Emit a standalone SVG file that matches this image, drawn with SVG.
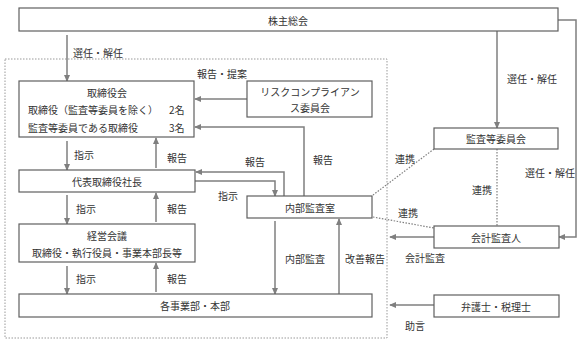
<svg xmlns="http://www.w3.org/2000/svg" width="584" height="344" viewBox="0 0 584 344">
<style>
.box{fill:#fff;stroke:#5f5f5f;stroke-width:1.2}
.t{font-family:"Noto Sans CJK JP","Liberation Sans",sans-serif;font-size:10px;fill:#333;dominant-baseline:central}
.c{text-anchor:middle}
.ln{fill:none;stroke:#7f7f7f;stroke-width:1.5}
.dot{fill:none;stroke:#7f7f7f;stroke-width:1.2;stroke-dasharray:1.5 1.5}
</style>
<defs>
<marker id="ah" viewBox="0 0 8 8" refX="7" refY="4" markerWidth="7" markerHeight="7" markerUnits="userSpaceOnUse" orient="auto">
<path d="M0,0.5 L8,4 L0,7.5 Z" fill="#7f7f7f"/>
</marker>
</defs>
<rect width="584" height="344" fill="#fff"/>
<rect x="5" y="59" width="382" height="279" fill="none" stroke="#999" stroke-width="1" stroke-dasharray="1.5 1.5"/>
<g id="connectors">
<path class="ln" d="M67,35 V81" marker-end="url(#ah)"/>
<path class="ln" d="M497,31 V128" marker-end="url(#ah)"/>
<path class="ln" d="M558,20 H576 V237 H559" marker-end="url(#ah)"/>
<path class="ln" d="M247,99 H195" marker-end="url(#ah)"/>
<path class="ln" d="M304,196 V127 H195" marker-end="url(#ah)"/>
<path class="ln" d="M284,196 V172 H196" marker-end="url(#ah)"/>
<path class="ln" d="M195,181 H275 V196" marker-end="url(#ah)"/>
<path class="ln" d="M67,141 V170" marker-end="url(#ah)"/>
<path class="ln" d="M156,168 V138" marker-end="url(#ah)"/>
<path class="ln" d="M67,195 V224" marker-end="url(#ah)"/>
<path class="ln" d="M156,222 V193" marker-end="url(#ah)"/>
<path class="ln" d="M67,266 V294" marker-end="url(#ah)"/>
<path class="ln" d="M156,292 V263" marker-end="url(#ah)"/>
<path class="ln" d="M275,221 V294" marker-end="url(#ah)"/>
<path class="ln" d="M339,294 V219" marker-end="url(#ah)"/>
<path class="ln" d="M434,237 H390" marker-end="url(#ah)"/>
<path class="ln" d="M434,305 H390" marker-end="url(#ah)"/>
<path class="dot" d="M434,149 L373,195"/>
<path class="dot" d="M497,149 V226"/>
<path class="dot" d="M373,217 L434,228"/>
</g>
<g id="labels">
<text class="t" x="73" y="52">選任・解任</text>
<text class="t" x="197" y="73">報告・提案</text>
<text class="t" x="74" y="154">指示</text>
<text class="t" x="167" y="157">報告</text>
<text class="t" x="245" y="161">報告</text>
<text class="t" x="313" y="159">報告</text>
<text class="t" x="218" y="195">指示</text>
<text class="t" x="76" y="208">指示</text>
<text class="t" x="167" y="208">報告</text>
<text class="t" x="76" y="278">指示</text>
<text class="t" x="167" y="278">報告</text>
<text class="t" x="285" y="258">内部監査</text>
<text class="t" x="345" y="258">改善報告</text>
<text class="t" x="507" y="78">選任・解任</text>
<text class="t" x="525" y="172">選任・解任</text>
<text class="t" x="395" y="158">連携</text>
<text class="t" x="472" y="189">連携</text>
<text class="t" x="398" y="212">連携</text>
<text class="t" x="405" y="257">会計監査</text>
<text class="t" x="405" y="325">助言</text>
</g>
<g id="shareholders">
<rect class="box" x="19" y="8" width="539" height="23"/>
<text class="t c" x="288" y="20">株主総会</text>
</g>
<g id="board">
<rect class="box" x="19" y="81" width="175" height="56"/>
<text class="t c" x="107" y="92">取締役会</text>
<text class="t" x="28" y="109">取締役（監査等委員を除く）</text>
<text class="t" x="169" y="109">2名</text>
<text class="t" x="28" y="127">監査等委員である取締役</text>
<text class="t" x="169" y="127">3名</text>
</g>
<g id="risk">
<rect class="box" x="247" y="81" width="125" height="36"/>
<text class="t c" x="310" y="91">リスクコンプライアン</text>
<text class="t c" x="310" y="107">ス委員会</text>
</g>
<g id="president">
<rect class="box" x="19" y="170" width="176" height="22"/>
<text class="t c" x="107" y="181">代表取締役社長</text>
</g>
<g id="internal-audit">
<rect class="box" x="247" y="196" width="125" height="22"/>
<text class="t c" x="310" y="207">内部監査室</text>
</g>
<g id="mgmt">
<rect class="box" x="19" y="224" width="176" height="38"/>
<text class="t c" x="107" y="235">経営会議</text>
<text class="t c" x="107" y="252">取締役・執行役員・事業本部長等</text>
</g>
<g id="divisions">
<rect class="box" x="19" y="294" width="353" height="23"/>
<text class="t c" x="195" y="305">各事業部・本部</text>
</g>
<g id="audit-committee">
<rect class="box" x="434" y="128" width="124" height="21"/>
<text class="t c" x="496" y="138">監査等委員会</text>
</g>
<g id="auditor">
<rect class="box" x="434" y="226" width="125" height="22"/>
<text class="t c" x="496" y="237">会計監査人</text>
</g>
<g id="lawyers">
<rect class="box" x="434" y="295" width="125" height="22"/>
<text class="t c" x="496" y="306">弁護士・税理士</text>
</g>
</svg>
